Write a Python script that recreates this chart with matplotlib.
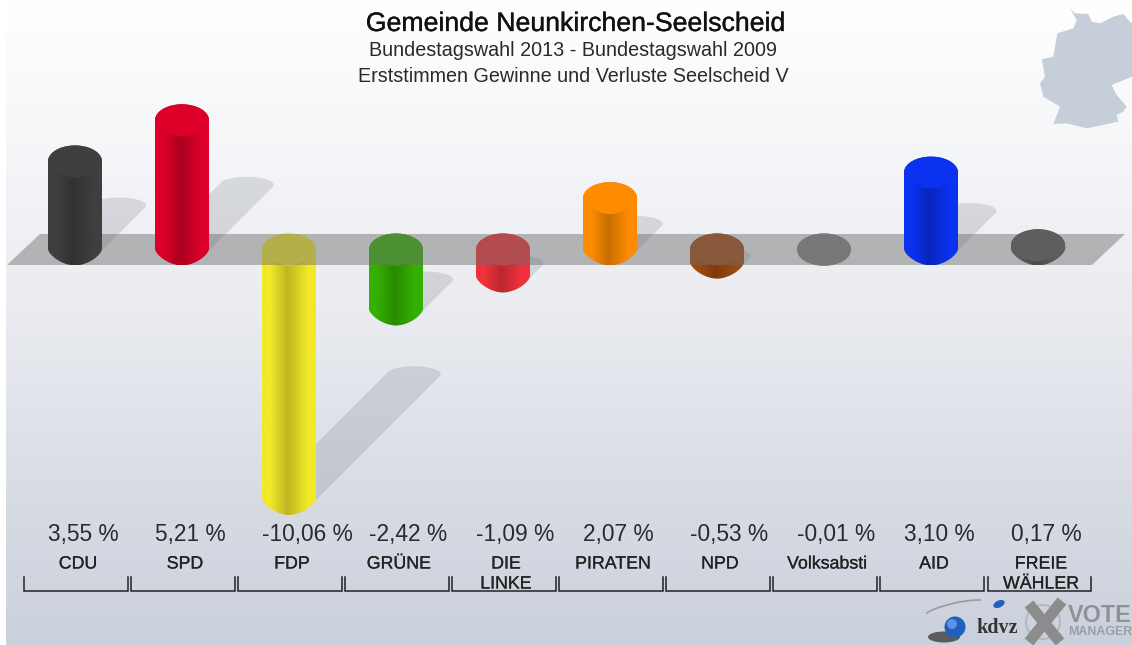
"""Gewinne und Verluste: cylinder chart, Seelscheid V."""
import numpy as np
import matplotlib
matplotlib.use("Agg")
import matplotlib.pyplot as plt
import matplotlib.patheffects as pe
from matplotlib.colors import LinearSegmentedColormap, to_rgb
from matplotlib.patches import Circle, Ellipse, Polygon, PathPatch
from matplotlib.path import Path

parties = ["CDU", "SPD", "FDP", "GRÜNE", "DIE\nLINKE", "PIRATEN", "NPD", "Volksabsti", "AID", "FREIE\nWÄHLER"]
values = [3.55, 5.21, -10.06, -2.42, -1.09, 2.07, -0.53, -0.01, 3.10, 0.17]
value_labels = ["3,55 %", "5,21 %", "-10,06 %", "-2,42 %", "-1,09 %", "2,07 %", "-0,53 %", "-0,01 %", "3,10 %", "0,17 %"]
colors = ["#3f3f3f", "#dc0028", "#f2e92a", "#34b000", "#f0323c", "#ff8c00", "#a04a10", "#828282", "#0a32f0", "#5e5e5e"]

W, H = 1132, 645
X0, X_STEP = 75.0, 107.0   # px of first bar, px between bars
Y0, Y_UNIT = 249.5, 24.8   # px of zero, px per percentage point
RX, RY = 27.0 / X_STEP, 16.0 / Y_UNIT     # cap ellipse in data units
SH_RY = 8.0 / Y_UNIT

plt.rcParams["font.family"] = ["Liberation Sans", "DejaVu Sans"]

fig = plt.figure(figsize=(W / 100, H / 100), dpi=100)
fig.patch.set_facecolor("white")

# pixel axes for background, labels and logos
pix = fig.add_axes([0, 0, 1, 1], zorder=0)
pix.axis("off")

stops = LinearSegmentedColormap.from_list(
    "bg", [(0, "#ffffff"), (0.2, "#f6f7f9"), (0.5, "#e9ebf0"), (0.8, "#d6dae3"), (1, "#cbd1dc")])
pix.imshow(np.linspace(0, 1, 256)[:, None], cmap=stops, extent=(6, W, H, 0), aspect="auto", zorder=0)
pix.set_xlim(0, W)
pix.set_ylim(H, 0)

# germany outline
germany = np.array([
    (330, 25), (345, 40), (385, 42), (395, 65), (420, 70), (460, 50), (490, 42), (505, 60), (516, 70),
    (516, 230), (455, 255), (470, 285), (500, 320), (490, 335), (470, 345), (475, 365), (380, 385),
    (320, 370), (280, 372), (300, 320), (250, 290), (240, 250), (255, 230), (245, 178), (280, 170),
    (292, 100), (340, 85), (350, 60)]) / 3.0 + (960, 0)
pix.add_patch(Polygon(germany, closed=True, fc="#c6ced9", ec="none", zorder=1))

# value axes, covers the whole figure
ax = fig.add_axes([0, 0, 1, 1], zorder=1)
ax.patch.set_alpha(0)
ax.axis("off")


def upper_arc(cx, cy, n=40):
    t = np.linspace(np.pi, 0, n)
    return np.column_stack([cx + RX * np.cos(t), cy + RY * np.sin(t)])


def lower_arc(cx, cy, pointed=True, n=40):
    # right to left, a bit pointed like the rendered cylinders
    u = np.linspace(1, -1, n)
    if pointed:
        drop = (1 - np.abs(u) ** 1.8) ** 0.7
    else:
        drop = np.sqrt(1 - u ** 2)
    return np.column_stack([cx + RX * u, cy - RY * drop])


def draw_shadow(i, v):
    base = min(v, 0)
    dx, dy = 0.5 * abs(v) * Y_UNIT / X_STEP, 0.5 * abs(v)
    t = np.linspace(0, 2 * np.pi, 120, endpoint=False)
    pts = np.column_stack([i + RX * np.cos(t), base + SH_RY * np.sin(t)])
    front = np.cos(t) * dx / RX + np.sin(t) * dy / SH_RY > 0
    pts[front] += (dx, dy)
    ax.add_patch(Polygon(pts, closed=True, fc="#80838c", ec="none", alpha=0.24, zorder=1))


def draw_bar(i, v, color, z):
    base = np.array(to_rgb(color))
    cmap = LinearSegmentedColormap.from_list(
        "c", [(0, base), (0.15, base), (0.47, base * 0.78), (0.85, base), (1, base)])
    top, bot = max(v, 0), min(v, 0)
    pointed = abs(v) > 0.05  # the near-zero disc stays a plain ellipse
    outline = np.vstack([upper_arc(i, top), lower_arc(i, bot, pointed)])
    clip = PathPatch(Path(np.vstack([outline, outline[:1]])), transform=ax.transData, fc="none", ec="none")
    ax.add_patch(clip)
    im = ax.imshow(np.linspace(0, 1, 128)[None, :], cmap=cmap, vmin=0, vmax=1, aspect="auto",
                   extent=(i - RX, i + RX, bot - RY, top + RY), zorder=z)
    im.set_clip_path(clip)
    cap = np.vstack([upper_arc(i, top), lower_arc(i, top, pointed)])
    ax.add_patch(Polygon(cap, closed=True, fc=color, ec="none", zorder=z + 0.1))


for i, v in enumerate(values):
    draw_shadow(i, v)

# negative bars sit behind the grey floor, positive ones in front of it
for i, (v, c) in enumerate(zip(values, colors)):
    draw_bar(i, v, c, 2 if v < 0 else 4)

ax.add_patch(Polygon([(7, 265), (40, 234), (1125, 234), (1092, 265)], closed=True,
                     transform=pix.transData, fc="#6c6c6c", ec="none", alpha=0.46, zorder=3))

ax.set_xlim(-X0 / X_STEP, (W - X0) / X_STEP)
ax.set_ylim((Y0 - H) / Y_UNIT, Y0 / Y_UNIT)

# titles
tx = fig.add_axes([0, 0, 1, 1], zorder=2)
tx.set_xlim(0, W)
tx.set_ylim(H, 0)
tx.axis("off")
tx.text(575, 24, "Gemeinde Neunkirchen-Seelscheid", fontsize=19.2, color="#111111", ha="center", va="center",
        path_effects=[pe.withStroke(linewidth=0.25, foreground="#111111")])
tx.text(573, 51, "Bundestagswahl 2013 - Bundestagswahl 2009", fontsize=14.2, color="#2a2a2a", ha="center", va="center")
tx.text(573, 76, "Erststimmen Gewinne und Verluste Seelscheid V", fontsize=14.2, color="#2a2a2a", ha="center", va="center")

# labels and brackets
name_fx = [pe.withStroke(linewidth=0.15, foreground="#222222")]
for i, (name, lab) in enumerate(zip(parties, value_labels)):
    tx.text(48 + X_STEP * i, 535, lab, fontsize=16.4, color="#2a2a2a", ha="left", va="center")
    for k, line in enumerate(name.split("\n")):
        tx.text(78 + X_STEP * i, 564 + 20 * k, line, fontsize=12.8, color="#222222", ha="center", va="center",
                path_effects=name_fx)
    left, right = 24 + X_STEP * i + (1 if i == 9 else 0), 128 + X_STEP * i
    tx.plot([left, left, right, right], [577, 591, 591, 577], color="#222222", lw=1.1, solid_joinstyle="miter")

# logos
t = np.linspace(0, 1, 40)
tx.plot(927 + 53 * t ** 0.8, 613 - 13 * np.sin(t * np.pi * 0.5) ** 0.6, color="#9a9a9a", lw=1.2, zorder=3)
tx.add_patch(Ellipse((944, 637), 32, 11, fc="#333333", ec="none", alpha=0.75, zorder=3))
tx.add_patch(Circle((955, 627), 10.5, fc="#1f5fc0", ec="none", zorder=4))
tx.add_patch(Circle((952, 624), 5, fc="#5c92e0", ec="none", zorder=4))
tx.add_patch(Ellipse((999, 604), 12, 7, angle=-25, fc="#2360c0", ec="none", zorder=4))
tx.text(997, 628, "kdvz", fontsize=14.5, fontweight="bold", family="Liberation Serif", color="#333333",
        ha="center", va="center", zorder=4)
tx.add_patch(Circle((1043, 622), 17, fc="none", ec="#b4b8c0", lw=1.5, zorder=3))
tx.plot([1029, 1060], [604, 642], color="#8c8c8c", lw=8, solid_capstyle="butt", zorder=4)
tx.plot([1062, 1029], [601, 642], color="#8c8c8c", lw=8, solid_capstyle="butt", zorder=4)
tx.text(1068, 616, "VOTE", fontsize=16.8, fontweight="bold", color="#8e9298", ha="left", va="center", zorder=4)
tx.text(1068, 632, "MANAGER", fontsize=8.9, fontweight="bold", color="#9a9ea6", ha="left", va="center", zorder=4)

fig.savefig("out.png", dpi=100)
